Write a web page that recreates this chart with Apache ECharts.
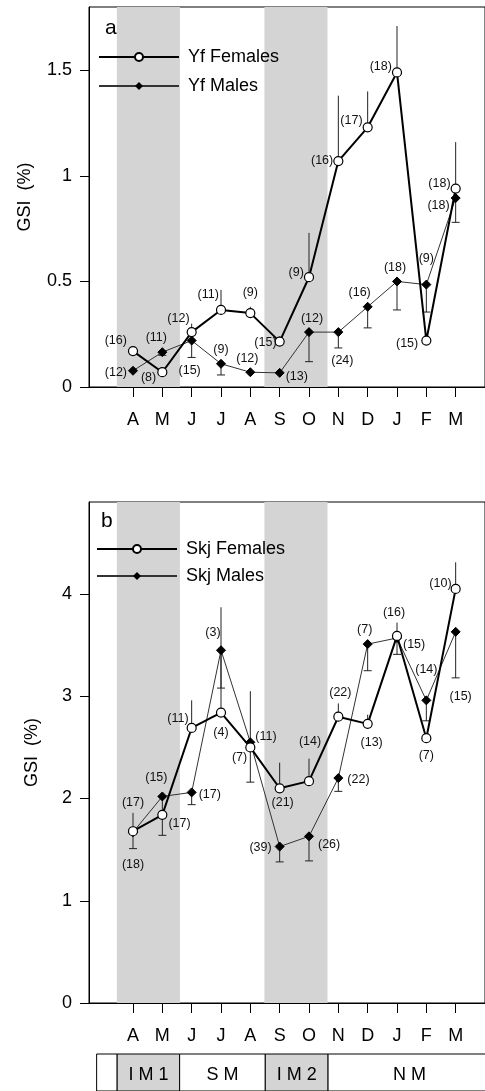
<!DOCTYPE html>
<html><head><meta charset="utf-8">
<script src="https://cdn.jsdelivr.net/npm/echarts@6/dist/echarts.min.js"></script>
<style>html,body{margin:0;padding:0;background:#fff}#c{width:485px;height:1091px}</style>
</head><body><div id="c"></div>
<script>
// ---- data ----
const months = ['A','M','J','J','A','S','O','N','D','J','F','M'];
const monthPos = [1,2,3,4,5,6,7,8,9,10,11,12];

const yfFemales = [0.17,0.07,0.26,0.365,0.35,0.215,0.52,1.07,1.23,1.49,0.22,0.94];
const yfFemalesUpper = [0.19,null,0.30,0.46,0.38,0.24,0.73,1.38,1.40,1.71,null,1.16];
const yfFemalesN = ['(16)','(8)','(12)','(11)','(9)','(15)','(9)','(16)','(17)','(18)','(15)','(18)'];
const yfMales = [0.077,0.165,0.22,0.11,0.07,0.067,0.26,0.26,0.38,0.50,0.485,0.895];
const yfMalesLower = [null,0.15,0.14,0.057,null,null,0.12,0.185,0.28,0.365,0.355,0.78];
const yfMalesN = ['(12)','(11)','(15)','(9)','(12)','(13)','(12)','(24)','(16)','(18)','(9)','(18)'];

const skjFemales = [1.68,1.84,2.69,2.84,2.50,2.10,2.17,2.80,2.73,3.59,2.59,4.05];
const skjFemalesUpper = [1.86,null,2.96,3.87,3.05,2.35,2.39,2.93,2.82,3.72,null,4.31];
const skjFemalesN = ['(17)','(17)','(11)','(4)','(7)','(21)','(14)','(22)','(13)','(16)','(7)','(10)'];
const skjMales = [1.67,2.02,2.06,3.45,2.55,1.53,1.63,2.20,3.51,3.57,2.96,3.63];
const skjMalesLower = [1.51,1.64,1.94,3.08,2.16,1.38,1.39,2.07,3.25,3.41,2.76,3.18];
const skjMalesN = ['(18)','(15)','(17)','(3)','(11)','(39)','(26)','(22)','(7)','(15)','(14)','(15)'];

const yTicksA = [0,0.5,1,1.5];
const yTicksB = [0,1,2,3,4];
const seasonBands = [[0.45,2.6],[5.48,7.63]];
const monsoonPeriods = [['',-0.24,0.46],['I M 1',0.46,2.59],['S M',2.59,5.51],['I M 2',5.51,7.65],['N M',7.65,13.2]];

// ---- label layout (style) : [position, distance, dx, dy] ----
const layFa = [['left',1,0,-11],['left',1,0,5],['left',-3,0,-14],['left',-3,0,-15],['top',9,0,0],['left',-2,0,1],['left',0,0,-5],['left',0,0,-1],['left',0,0,-7],['left',0,0,-6],['left',3,0,3],['left',0,0,-5]];
const layMa = [['left',1,0,2],['top',3,-6,0],['bottom',18,-2,0],['top',3,0,0],['top',2,-3,0],['right',1,0,4],['top',2,3,0],['bottom',17,4,0],['top',3,-8,0],['top',2,-2,0],['top',15,0,0],['left',1,0,7]];
const layFb = [['top',17,0,0],['right',1,0,9],['left',-2,0,-9],['bottom',8,0,0],['left',-2,0,10],['bottom',3,3,0],['top',28,1,0],['top',13,2,0],['bottom',7,4,0],['top',12,-3,0],['bottom',6,0,0],['left',-1,0,-5]];
const layMb = [['bottom',21,0,0],['top',7,-6,0],['right',2,0,2],['top',6,-8,0],['right',0,0,-6],['left',3,0,1],['right',4,0,8],['right',4,0,1],['top',3,-3,0],['right',1,0,7],['top',19,0,0],['bottom',53,5,0]];

const FONT = 'Liberation Sans, Arial, sans-serif';

function pts(vals, ns, lay){
  return vals.map((v,i)=>({
    value:[monthPos[i], v], n: ns[i],
    label:{position: lay[i][0], distance: lay[i][1], offset:[lay[i][2], lay[i][3]]}
  }));
}
function errData(vals, bounds){
  const out=[];
  vals.forEach((v,i)=>{ if(bounds[i]!==null) out.push([monthPos[i], v, bounds[i]]); });
  return out;
}
function errRender(cap){
  return function(params, api){
    const x=api.value(0), y=api.value(1), b=api.value(2);
    const p0=api.coord([x,y]), p1=api.coord([x,b]);
    const ch=[{type:'line',shape:{x1:p0[0],y1:p0[1],x2:p1[0],y2:p1[1]},style:{stroke:'#222',lineWidth:1}}];
    if(cap) ch.push({type:'line',shape:{x1:p1[0]-4,y1:p1[1],x2:p1[0]+4,y2:p1[1]},style:{stroke:'#222',lineWidth:1}});
    return {type:'group',children:ch};
  };
}
const labelStyle = {show:true, formatter:p=>p.data.n, fontSize:12.5, fontFamily:FONT, color:'#111'};
const bandArea = {silent:true, itemStyle:{color:'#d4d4d4'}, data: seasonBands.map(b=>[{xAxis:b[0]},{xAxis:b[1]}])};

function xAx(gi, show){
  return {type:'value', gridIndex:gi, min:-0.5, max:13, show:show,
    axisLine:{show:true, onZero:false, lineStyle:{color:'#000',width:1}},
    axisTick:{show:true, customValues:monthPos, length:10, lineStyle:{color:'#000'}},
    axisLabel:{show:true, customValues:monthPos, formatter:v=>months[Math.round(v)-1]||'', margin:24, fontSize:18, fontFamily:FONT, color:'#000'},
    splitLine:{show:false}};
}
function yAx(gi, max, ticks, gap){
  return {type:'value', gridIndex:gi, min:0, max:max, name:'GSI  (%)', nameLocation:'middle', nameGap:gap, nameRotate:90,
    nameTextStyle:{fontSize:18, fontFamily:FONT, color:'#000'},
    axisLine:{show:true, onZero:false, lineStyle:{color:'#000',width:1}},
    axisTick:{show:true, customValues:ticks, length:9, lineStyle:{color:'#000'}},
    axisLabel:{show:true, customValues:ticks, formatter:v=>String(v), margin:17, fontSize:18, fontFamily:FONT, color:'#000'},
    splitLine:{show:false}};
}
function femaleSeries(name, gi, vals, ns, lay){
  return {type:'line', name:name, xAxisIndex:gi, yAxisIndex:gi, data:pts(vals,ns,lay), z:5,
    symbol:'circle', symbolSize:9, itemStyle:{color:'#fff', borderColor:'#000', borderWidth:1.2},
    lineStyle:{color:'#000', width:2}, label:labelStyle, animation:false};
}
function maleSeries(name, gi, vals, ns, lay){
  return {type:'line', name:name, xAxisIndex:gi, yAxisIndex:gi, data:pts(vals,ns,lay), z:4,
    symbol:'diamond', symbolSize:9, itemStyle:{color:'#000', borderColor:'#000'},
    lineStyle:{color:'#333', width:1}, label:labelStyle, markArea:bandArea, animation:false};
}
function errSeries(gi, vals, bounds, cap){
  return {type:'custom', xAxisIndex:gi, yAxisIndex:gi, renderItem:errRender(cap), data:errData(vals,bounds),
    encode:{x:0,y:1}, z:3, silent:true, animation:false, clip:false};
}

const chart = echarts.init(document.getElementById('c'), null, {renderer:'canvas'});
chart.setOption({
  backgroundColor:'#fff',
  animation:false,
  title:[
    {text:'a', left:100, top:13, textStyle:{fontSize:21, fontWeight:'normal', fontFamily:FONT, color:'#000'}},
    {text:'b', left:96, top:506, textStyle:{fontSize:21, fontWeight:'normal', fontFamily:FONT, color:'#000'}}
  ],
  legend:[
    {data:['Yf Females','Yf Males'], orient:'vertical', left:93, top:43, itemWidth:80, itemHeight:10, itemGap:11,
      textStyle:{fontSize:18, fontFamily:FONT, color:'#000', padding:[0,0,0,4]}},
    {data:['Skj Females','Skj Males'], orient:'vertical', left:91, top:535, itemWidth:80, itemHeight:10, itemGap:9,
      textStyle:{fontSize:18, fontFamily:FONT, color:'#000', padding:[0,0,0,4]}}
  ],
  grid:[
    {left:89, right:-20, top:7, height:380, show:true, borderColor:'#000', borderWidth:1},
    {left:89, right:-20, top:502, height:501, show:true, borderColor:'#000', borderWidth:1},
    {left:89, right:-20, top:1054, height:48, show:false}
  ],
  xAxis:[xAx(0,true), xAx(1,true), {type:'value', gridIndex:2, min:-0.5, max:13, show:false}],
  yAxis:[yAx(0,1.8,yTicksA,55), yAx(1,4.9,yTicksB,48), {type:'value', gridIndex:2, min:0, max:1, show:false}],
  series:[
    errSeries(0, yfFemales, yfFemalesUpper, false),
    errSeries(0, yfMales, yfMalesLower, true),
    maleSeries('Yf Males', 0, yfMales, yfMalesN, layMa),
    femaleSeries('Yf Females', 0, yfFemales, yfFemalesN, layFa),
    errSeries(1, skjFemales, skjFemalesUpper, false),
    errSeries(1, skjMales, skjMalesLower, true),
    maleSeries('Skj Males', 1, skjMales, skjMalesN, layMb),
    femaleSeries('Skj Females', 1, skjFemales, skjFemalesN, layFb),
    {type:'custom', xAxisIndex:2, yAxisIndex:2, silent:true, animation:false, clip:false,
      data: monsoonPeriods.map((p,i)=>[p[1], p[2], i]),
      encode:{x:[0,1]},
      renderItem:function(params, api){
        const a=api.coord([api.value(0),1]), b=api.coord([api.value(1),0]);
        const idx=api.value(2);
        const name=monsoonPeriods[idx][0];
        const grey = name.indexOf('I M')===0;
        return {type:'group', children:[
          {type:'rect', shape:{x:a[0], y:a[1], width:b[0]-a[0], height:b[1]-a[1]},
            style:{fill: grey?'#d4d4d4':'#fff', stroke:'#000', lineWidth:1}},
          {type:'text', style:{text:name, x:(a[0]+b[0])/2, y:a[1]+21, align:'center', verticalAlign:'middle',
            font:'18px '+FONT, fill:'#000'}}
        ]};
      }}
  ]
});
</script>
</body></html>
